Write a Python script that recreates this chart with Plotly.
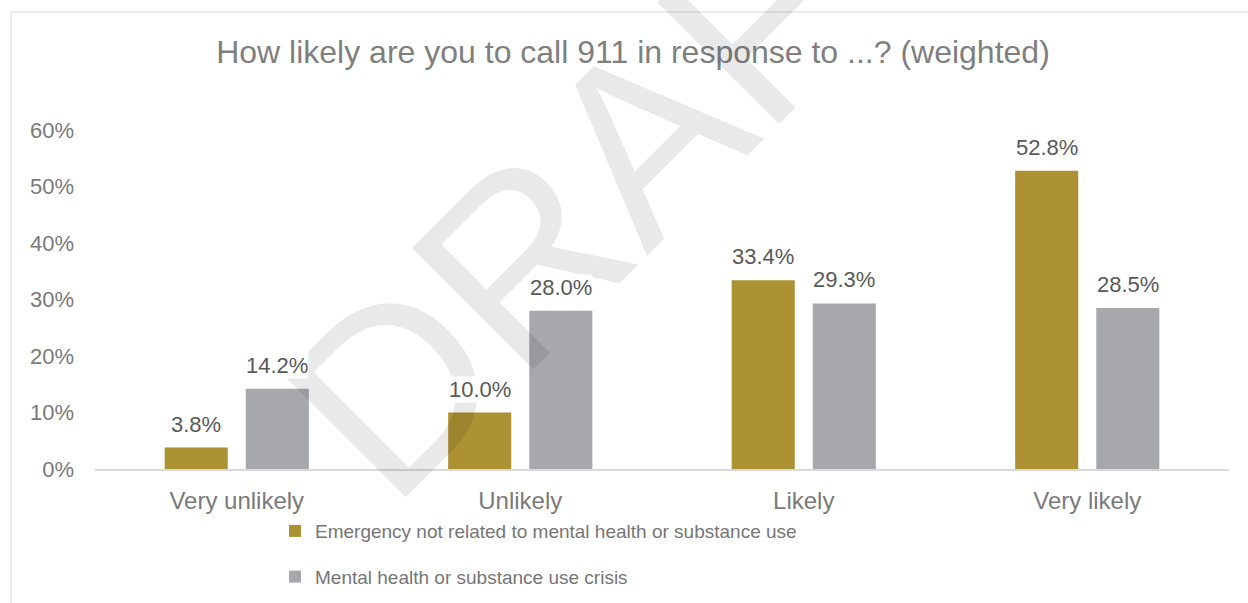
import plotly.graph_objects as go

# Survey responses (weighted shares)
categories = ["Very unlikely", "Unlikely", "Likely", "Very likely"]
series_names = [
    "Emergency not related to mental health or substance use",
    "Mental health or substance use crisis",
]
emergency_values = [0.038, 0.100, 0.334, 0.528]
crisis_values = [0.142, 0.280, 0.293, 0.285]
y_ticks = [0.0, 0.1, 0.2, 0.3, 0.4, 0.5, 0.6]

GOLD = "#AC9232"
GREY = "#A7A8AC"
FONT = "Liberation Sans"

W, H = 1248, 603
M_L, M_R, M_T, M_B = 95, 19, 130, 134
BARGAP, GROUPGAP = 0.428, 0.222

fig = go.Figure()
for i, (name, vals, col) in enumerate(
    [(series_names[0], emergency_values, GOLD), (series_names[1], crisis_values, GREY)]
):
    fig.add_trace(go.Bar(
        x=categories, y=vals, name=name, marker_color=col,
        marker_line_width=0, legendgroup=f"g{i}",
    ))

plot_w = W - M_L - M_R
plot_h = H - M_T - M_B

# watermark (drawn first so the value labels sit on top of it)
annotations = [dict(
    x=(624 - M_L) / plot_w, y=(H - M_B - 156) / plot_h,
    xref="paper", yref="paper", xanchor="center", yanchor="middle",
    text="DRAFT", showarrow=False, textangle=-45,
    font=dict(family=FONT, size=250, color="rgba(0,0,0,0.085)"),
)]

# value labels above each bar, shifted to the bar's slot in its group
slot = plot_w / len(categories) * (1 - BARGAP) / 2
for k, vals in enumerate([emergency_values, crisis_values]):
    shift = (k - 0.5) * slot
    for c, v in zip(categories, vals):
        annotations.append(dict(
            x=c, y=v, xref="x", yref="y", text=f"{v*100:.1f}%",
            showarrow=False, xshift=shift, yshift=10, yanchor="bottom",
            bgcolor="white", borderpad=0,
            font=dict(family=FONT, size=22, color="#595959"),
        ))

fig.update_layout(
    width=W, height=H,
    margin=dict(l=M_L, r=M_R, t=M_T, b=M_B, autoexpand=False),
    paper_bgcolor="white", plot_bgcolor="white",
    barmode="group", bargap=BARGAP, bargroupgap=GROUPGAP,
    title=dict(
        text="How likely are you to call 911 in response to ...? (weighted)",
        x=633 / W, xref="container", xanchor="center",
        y=1 - 52 / H, yref="container", yanchor="middle",
        font=dict(family=FONT, size=32, color="#7F7F7F"),
    ),
    xaxis=dict(
        showgrid=False, zeroline=False, showline=True, linecolor="#D9D9D9",
        linewidth=2, ticks="", ticklabelstandoff=9,
        tickfont=dict(family=FONT, size=24, color="#7A7A7A"),
    ),
    yaxis=dict(
        range=[0, 0.6], tickvals=y_ticks, tickformat=".0%",
        showgrid=False, zeroline=False, showline=False, ticks="",
        ticklabelstandoff=20,
        tickfont=dict(family=FONT, size=22, color="#7A7A7A"),
    ),
    legend=dict(
        orientation="v", x=(275 - M_L) / plot_w, y=-0.127,
        xanchor="left", yanchor="top",
        tracegroupgap=18, font=dict(family=FONT, size=19, color="#767676"),
        bgcolor="rgba(0,0,0,0)",
    ),
    annotations=annotations,
    shapes=[dict(
        type="rect", xref="paper", yref="paper",
        x0=(11 - M_L) / plot_w, x1=1.3,
        y0=-1.0, y1=(H - M_B - 12) / plot_h,
        line=dict(color="#D9D9D9", width=1), fillcolor="rgba(0,0,0,0)",
        layer="below",
    )],
    showlegend=True,
)

fig.write_html("out.html")
